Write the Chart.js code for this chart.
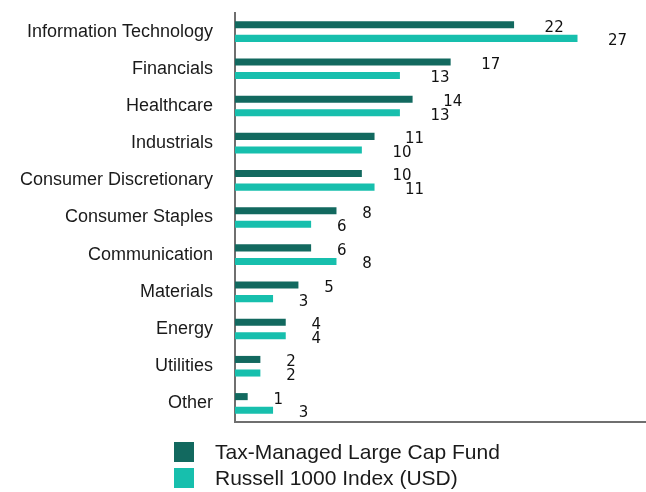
<!DOCTYPE html>
<html>
<head>
<meta charset="utf-8">
<script src="https://cdn.jsdelivr.net/npm/chart.js@4.4.1/dist/chart.umd.min.js"></script>
<style>
  body { margin: 0; background: #fff; }
  #wrap { position: relative; width: 646px; height: 492px; }
  #legend { position: absolute; left: 174px; top: 442px; font-family: "Liberation Sans", Arial, sans-serif; font-size: 21px; color: #1a1a1a; }
  #legend div { display: flex; align-items: center; height: 20px; margin-bottom: 6px; }
  #legend span.box { width: 20px; height: 20px; margin-right: 21px; display: inline-block; }
</style>
</head>
<body>
<div id="wrap">
  <canvas id="chart" width="646" height="492"></canvas>
  <div id="legend"></div>
</div>
<script>
'use strict';

const categories = ['Information Technology', 'Financials', 'Healthcare', 'Industrials',
  'Consumer Discretionary', 'Consumer Staples', 'Communication', 'Materials',
  'Energy', 'Utilities', 'Other'];
const fundValues = [22, 17, 14, 11, 10, 8, 6, 5, 4, 2, 1];
const indexValues = [27, 13, 13, 10, 11, 6, 8, 3, 4, 2, 3];
const seriesNames = ['Tax-Managed Large Cap Fund', 'Russell 1000 Index (USD)'];
const seriesColors = ['#12695f', '#17bfad'];

// value labels to the right of each bar
const valueLabels = {
  id: 'valueLabels',
  afterDatasetsDraw: function(chart) {
    const ctx = chart.ctx;
    ctx.save();
    ctx.font = '15px "DejaVu Sans", sans-serif';
    ctx.fillStyle = '#111';
    ctx.textAlign = 'center';
    ctx.textBaseline = 'middle';
    chart.data.datasets.forEach(function(ds, i) {
      chart.getDatasetMeta(i).data.forEach(function(bar, j) {
        let txt = String(ds.data[j]);
        let w = ctx.measureText(txt).width;
        ctx.fillText(txt, bar.x + 21 + w, bar.y + 3);
      });
    });
    ctx.restore();
  }
};

let chart = new Chart(document.getElementById('chart'), {
  type: 'bar',
  data: {
    labels: categories,
    datasets: [
      { label: seriesNames[0], data: fundValues, backgroundColor: seriesColors[0] },
      { label: seriesNames[1], data: indexValues, backgroundColor: seriesColors[1] }
    ]
  },
  options: {
    indexAxis: 'y',
    responsive: false,
    animation: false,
    layout: { padding: { top: 13, right: 0, bottom: 70, left: 0 } },
    datasets: {
      bar: { categoryPercentage: 0.73, barPercentage: 0.52, borderWidth: 0 }
    },
    scales: {
      x: {
        min: 0,
        max: 32.4,
        ticks: { display: false },
        grid: { display: false, drawTicks: false },
        border: { display: true, color: '#6f6f6f', width: 2 },
        afterFit: function(scale) { scale.height = 0; }
      },
      y: {
        ticks: {
          padding: 22,
          color: '#1a1a1a',
          font: { family: '"Liberation Sans", Arial, sans-serif', size: 18 }
        },
        grid: { display: false, drawTicks: false },
        border: { display: true, color: '#6f6f6f', width: 2 },
        afterFit: function(scale) {
          scale.width = 235;
          scale.paddingTop = 0;
          scale.paddingBottom = 0;
        }
      }
    },
    plugins: {
      legend: { display: false },
      tooltip: { enabled: false }
    }
  },
  plugins: [valueLabels]
});

// legend stacked under the chart
const legendEl = document.getElementById('legend');
seriesNames.forEach(function(name, i) {
  const row = document.createElement('div');
  const box = document.createElement('span');
  box.className = 'box';
  box.style.background = seriesColors[i];
  row.appendChild(box);
  row.appendChild(document.createTextNode(name));
  legendEl.appendChild(row);
});
</script>
</body>
</html>
